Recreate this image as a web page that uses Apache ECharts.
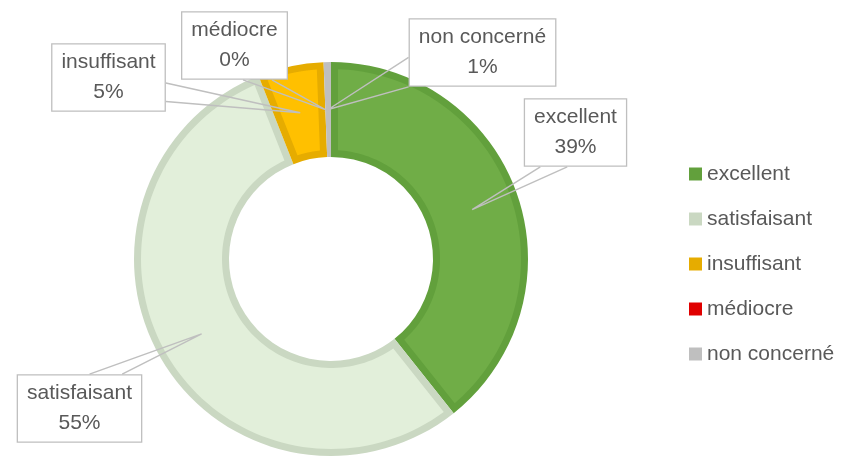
<!DOCTYPE html>
<html>
<head>
<meta charset="utf-8">
<script src="https://cdn.jsdelivr.net/npm/echarts@6/dist/echarts.min.js"></script>
<style>html,body{margin:0;padding:0;background:#fff}#c{width:843px;height:460px}</style>
</head>
<body>
<div id="c"></div>
<script>
// ---- data ----
const categories = ['excellent', 'satisfaisant', 'insuffisant', 'médiocre', 'non concerné'];
const values = [39.3, 54.7, 5.4, 0, 0.6];
const fillColors = ['#70AD47', '#E2EFDA', '#FFC000', '#FF0000', '#BFBFBF'];
const borderColors = ['#62A03C', '#CAD8C2', '#E6AC00', '#E00000', '#BFBFBF'];

// ---- layout (not data) ----
const CX = 331, CY = 259;
const R_IN = 102, R_OUT = 197, BW = 7;
// label box centres and callout base (edge side + fractions along that edge)
const labelBoxes = [
  { x: 575.5, y: 132.5, side: 'bottom', a: 0.16, b: 0.42 },
  { x: 79.5, y: 408.5, side: 'top', a: 0.58, b: 0.84 },
  { x: 108.5, y: 77.5, side: 'right', a: 0.58, b: 0.85 },
  { x: 234.5, y: 45.5, side: 'bottom', a: 0.58, b: 0.85 },
  { x: 482.5, y: 52.5, side: 'left', a: 0.57, b: 1.0 }
];

const total = values.reduce((s, v) => s + v, 0);
function startFrac(i) {
  let cum = 0;
  for (let k = 0; k < i; k++) cum += values[k];
  return cum / total;
}
function pt(theta, r) {
  return [CX + r * Math.sin(theta), CY - r * Math.cos(theta)];
}
function anchorFor(i) {
  const f = startFrac(i) + values[i] / total / 2;
  return pt(f * Math.PI * 2, (R_IN + R_OUT) / 2);
}
// fill area of a slice, inset by the border width on every side
function insetPoints(i) {
  const a1 = startFrac(i) * Math.PI * 2;
  const a2 = a1 + values[i] / total * Math.PI * 2;
  const ro = R_OUT - BW, ri = R_IN + BW;
  const dOut = Math.asin(BW / ro), dIn = Math.asin(BW / ri);
  if (a2 - a1 <= 2 * dIn) return null;
  const pts = [];
  const n = 90;
  const o1 = a1 + dOut, o2 = a2 - dOut;
  for (let k = 0; k <= n; k++) pts.push(pt(o1 + (o2 - o1) * k / n, ro));
  const i1 = a2 - dIn, i2 = a1 + dIn;
  for (let k = 0; k <= n; k++) pts.push(pt(i1 + (i2 - i1) * k / n, ri));
  return pts;
}

const chart = echarts.init(document.getElementById('c'), null, { renderer: 'canvas' });
const FONT = 'Liberation Sans';

const option = {
  animation: false,
  backgroundColor: '#ffffff',
  legend: {
    orient: 'vertical',
    left: 684,
    top: 157,
    itemWidth: 13,
    itemHeight: 13,
    itemGap: 21,
    icon: 'rect',
    selectedMode: false,
    textStyle: { fontFamily: FONT, fontSize: 21, color: '#595959', lineHeight: 24 },
    data: categories.map((n, i) => ({ name: n, itemStyle: { color: borderColors[i], borderWidth: 0 } }))
  },
  series: [
    {
      // slice outlines (border colour, full size)
      type: 'pie',
      z: 1,
      silent: true,
      center: [CX, CY],
      radius: [R_IN, R_OUT],
      startAngle: 90,
      clockwise: true,
      avoidLabelOverlap: false,
      label: { show: false },
      labelLine: { show: false },
      emphasis: { disabled: true },
      data: categories.map((n, i) => ({ name: n, value: values[i], itemStyle: { color: borderColors[i], borderWidth: 0 } }))
    },
    {
      // slice fills, inset by the border width
      type: 'custom',
      coordinateSystem: 'none',
      z: 2,
      silent: true,
      data: values.map((v, i) => [i, v]),
      renderItem: function (params) {
        const i = params.dataIndex;
        const pts = insetPoints(i);
        if (!pts) return null;
        return { type: 'polygon', shape: { points: pts }, style: { fill: fillColors[i], stroke: null } };
      }
    },
    {
      // labels with callouts
      type: 'pie',
      z: 3,
      silent: true,
      center: [CX, CY],
      radius: [R_IN, R_OUT],
      startAngle: 90,
      clockwise: true,
      percentPrecision: 0,
      avoidLabelOverlap: false,
      emphasis: { disabled: true },
      label: {
        show: true,
        position: 'outside',
        formatter: '{b}\n{d}%',
        fontFamily: FONT,
        fontSize: 21,
        lineHeight: 30,
        color: '#595959',
        align: 'center',
        backgroundColor: '#ffffff',
        borderColor: '#BFBFBF',
        borderWidth: 1.3,
        padding: [3, 9]
      },
      labelLine: { show: true, smooth: false, length: 10, length2: 10, lineStyle: { color: '#BFBFBF', width: 1.4 } },
      labelLayout: function (p) {
        const i = p.dataIndex;
        const L = labelBoxes[i];
        const w = p.labelRect.width, h = p.labelRect.height;
        const left = L.x - w / 2, top = L.y - h / 2, right = left + w, bottom = top + h;
        let b1, b2;
        if (L.side === 'bottom') { b1 = [left + w * L.a, bottom]; b2 = [left + w * L.b, bottom]; }
        else if (L.side === 'top') { b1 = [left + w * L.a, top]; b2 = [left + w * L.b, top]; }
        else if (L.side === 'right') { b1 = [right, top + h * L.a]; b2 = [right, top + h * L.b]; }
        else { b1 = [left, top + h * L.a]; b2 = [left, top + h * L.b]; }
        return {
          x: L.x, y: L.y, align: 'center', verticalAlign: 'middle',
          labelLinePoints: [b1, anchorFor(i), b2]
        };
      },
      data: categories.map((n, i) => ({ name: n, value: values[i], itemStyle: { color: 'rgba(0,0,0,0)', borderWidth: 0 } }))
    }
  ]
};
chart.setOption(option);
</script>
</body>
</html>
